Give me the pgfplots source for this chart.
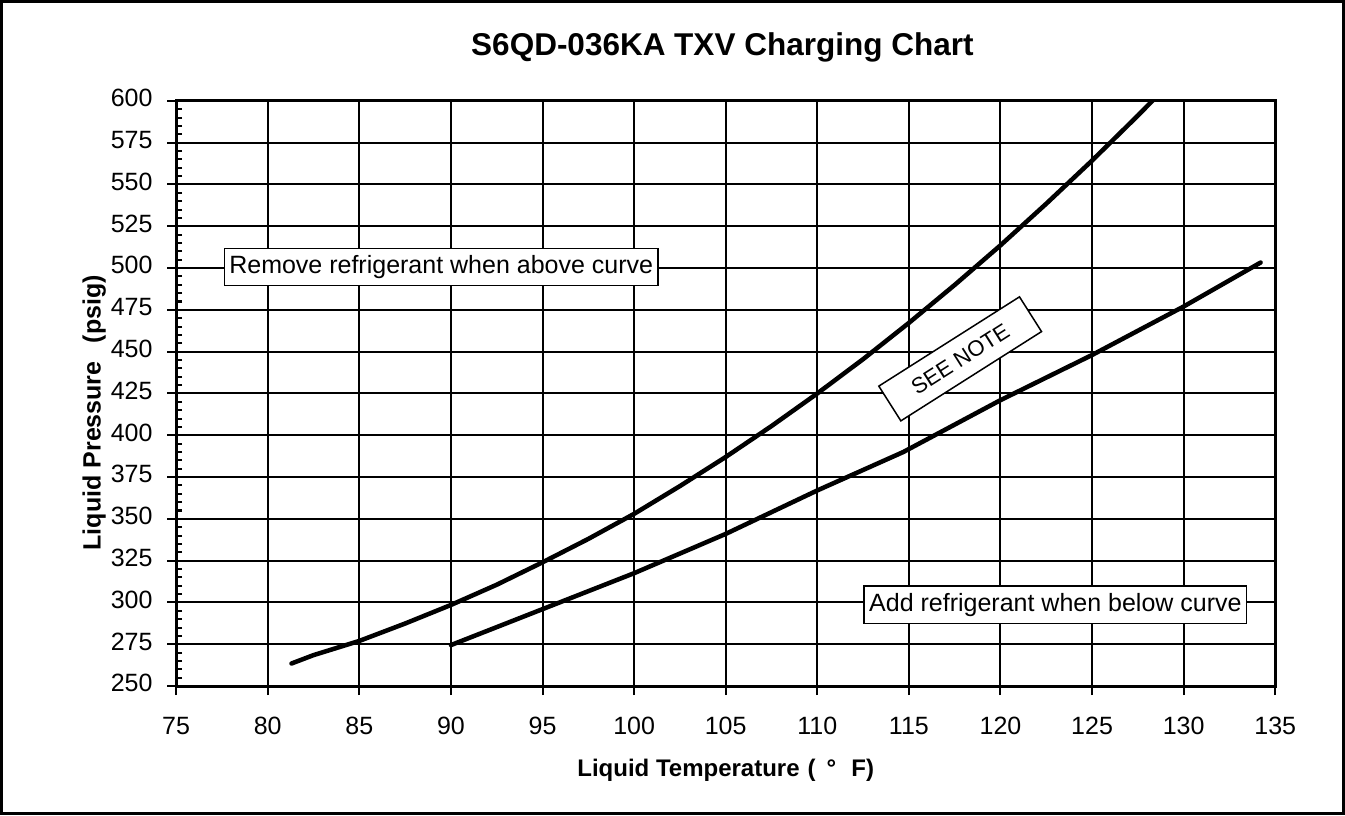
\documentclass[border=0pt]{standalone}
\usepackage{fontspec}
\setmainfont{Liberation Sans}
\usepackage{pgfplots}
\pgfplotsset{compat=1.18}
\begin{document}
\begin{tikzpicture}
\begin{axis}[
  scale only axis, width=1095bp, height=583bp,
  xmin=75, xmax=135, ymin=250, ymax=600,
  xtick={75,80,...,135}, ytick={250,275,...,600},
  minor y tick num=4,
  tick pos=left,
  tick align=outside,
  major tick length=9bp,
  minor tick length=-6bp,
  every tick/.style={black, line width=2bp},
  grid=major,
  major grid style={black, line width=2bp},
  axis line style={black, line width=3bp},
  /pgf/number format/assume math mode=true,
  typeset ticklabels with strut,
  tick label style={font=\fontsize{25}{29}\selectfont},
  xticklabel style={yshift=-16bp},
  yticklabel style={xshift=-11bp},
  label style={font=\fontsize{24}{28}\selectfont\bfseries},
  xlabel={Liquid Temperature\hspace{8bp}(\hspace{11bp}°\hspace{15bp}F)},
  ylabel={Liquid Pressure\hspace{18bp}(psig)},
  ylabel style={font=\fontsize{25}{29}\selectfont\bfseries, at={(axis description cs:-0.0745,0.467)}, anchor=center},
  xlabel style={at={(axis description cs:0.5,-0.144)}, anchor=center},
  title={S6QD-036KA TXV Charging Chart},
  every axis title shift=0pt,
  title style={font=\fontsize{31.5}{36}\selectfont\bfseries, at={(axis description cs:0.497,1.091)}, anchor=center},
  clip=true,
  clip mode=individual,
]
\addplot[black, line width=4.5bp, line join=round, line cap=round] coordinates {
 (81.3,263.5) (82.5,268.5) (85,277.0) (87.5,287.4) (90,298.5) (92.5,310.6)
 (95,324.0) (97.5,338.0) (100,353.0) (102.5,369.6) (105,387.0) (107.5,405.5)
 (110,425.0) (112.5,445.5) (115,467.2) (117.5,489.9) (120,513.6) (122.5,538.5)
 (125,564.3) (127.5,591.2) (128.8,605.7)
};
\addplot[black, line width=4.5bp, line join=round, line cap=round] coordinates {
 (90,274.5) (95,296) (100,317.5) (105,341) (110,367) (114.7,390)
 (120,421) (125,448) (130,477) (134.2,503.3)
};
\node[draw, fill=white, line width=1.5bp, inner xsep=5bp, inner ysep=7bp, font=\fontsize{25}{29}\selectfont]
  at (axis cs:89.47,500.6) {Remove refrigerant when above curve};
\node[draw, fill=white, line width=1.5bp, inner xsep=5bp, inner ysep=7bp, font=\fontsize{25}{29}\selectfont]
  at (axis cs:123.0,298.6) {Add refrigerant when below curve};
\node[draw, fill=white, line width=1.5bp, inner sep=0pt, minimum width=166bp, minimum height=41bp, rotate=32.4, font=\fontsize{22}{26}\selectfont]
  at (axis cs:117.8,445.7) {SEE NOTE};
\draw[black, line width=3bp] (rel axis cs:-0.1589,-0.2178) rectangle (rel axis cs:1.0621,1.1698);
\end{axis}
\end{tikzpicture}
\end{document}
